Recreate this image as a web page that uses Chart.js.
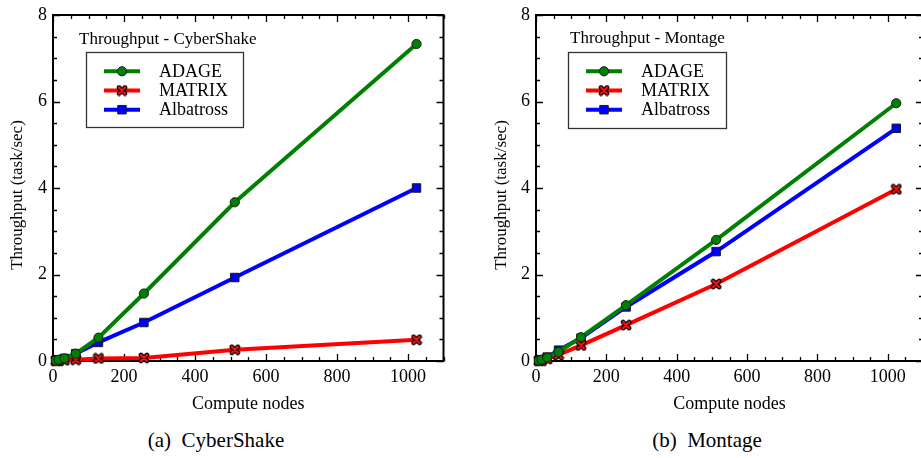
<!DOCTYPE html>
<html><head><meta charset="utf-8">
<script src="https://cdn.jsdelivr.net/npm/chart.js@4"></script>
<style>
html,body{margin:0;padding:0;background:#fff;overflow:hidden;width:921px;height:458px;position:relative;}
.panel{position:absolute;top:0;height:420px;}
#p1{left:0;width:460px;}
#p2{left:460px;width:470px;}
.cap{position:absolute;top:428px;font:21px "Liberation Serif",serif;color:#000;white-space:pre;transform:translateX(-50%);}
</style></head>
<body>
<div class="panel" id="p1"><canvas id="c1" width="460" height="420"></canvas></div>
<div class="panel" id="p2"><canvas id="c2" width="470" height="420"></canvas></div>
<div class="cap" style="left:216px">(a)  CyberShake</div>
<div class="cap" style="left:707px">(b)  Montage</div>
<script>
// ---- data ----
const nodes = [8, 16, 32, 64, 128, 256, 512, 1024];
const seriesNames = ['ADAGE', 'MATRIX', 'Albatross'];
const cyberAdage = [0.01, 0.03, 0.06, 0.17, 0.54, 1.56, 3.67, 7.33];
const cyberMatrix = [0.005, 0.01, 0.02, 0.03, 0.06, 0.07, 0.26, 0.49];
const cyberAlbatross = [0.01, 0.03, 0.06, 0.17, 0.43, 0.89, 1.93, 4.00];
const montAdage = [0.01, 0.03, 0.08, 0.21, 0.55, 1.29, 2.80, 5.96];
const montMatrix = [0.005, 0.01, 0.05, 0.14, 0.36, 0.83, 1.78, 3.97];
const montAlbatross = [0.01, 0.03, 0.09, 0.25, 0.53, 1.25, 2.53, 5.38];
const xTitle = 'Compute nodes';
const yTitle = 'Throughput (task/sec)';

const FONT = '"Liberation Serif", "Times New Roman", serif';

// cross marker image
function makeCross(){
  const c = document.createElement('canvas');
  c.width = 12; c.height = 12;
  const g = c.getContext('2d');
  g.lineCap = 'round';
  g.beginPath(); g.moveTo(3,3); g.lineTo(9,9); g.moveTo(9,3); g.lineTo(3,9);
  g.strokeStyle = '#000'; g.lineWidth = 4.6; g.stroke();
  g.strokeStyle = '#ff1010'; g.lineWidth = 2.4; g.stroke();
  return c;
}
const crossImg = makeCross();

const styles = {
  ADAGE: {color:'#008000', pointStyle:'circle', pointRadius:4.6, pointBackgroundColor:'#008000'},
  MATRIX: {color:'#ff0000', pointStyle:crossImg, pointRadius:6, pointBackgroundColor:'#ff0000'},
  Albatross: {color:'#0000ff', pointStyle:'rect', pointRadius:6, pointBackgroundColor:'#0000ff'}
};

function ds(name, values){
  const s = styles[name];
  return {
    label: name,
    data: nodes.map((n,i)=>({x:n, y:values[i]})),
    borderColor: s.color,
    backgroundColor: s.color,
    borderWidth: 4,
    pointStyle: s.pointStyle,
    pointRadius: s.pointRadius,
    pointBackgroundColor: s.pointBackgroundColor,
    pointBorderColor: '#1a1a1a',
    pointBorderWidth: 1,
    tension: 0,
    clip: false
  };
}

const framePlugin = {
  id: 'frameTicks',
  beforeDatasetsDraw(chart){
    const {ctx, chartArea:a, scales:{x,y}} = chart;
    ctx.save();
    ctx.strokeStyle = '#000';
    ctx.lineWidth = 1.3;
    ctx.beginPath();
    for (let v = x.min; v <= x.max + 1e-9; v += 50) {
      const px = Math.round(x.getPixelForValue(v)) + 0.5;
      const L = (v % 200 === 0) ? 7 : 4;
      ctx.moveTo(px, a.bottom); ctx.lineTo(px, a.bottom - L);
      ctx.moveTo(px, a.top); ctx.lineTo(px, a.top + L);
    }
    for (let v = y.min; v <= y.max + 1e-9; v += 0.5) {
      const py = Math.round(y.getPixelForValue(v)) + 0.5;
      const L = (Math.abs(v % 2) < 1e-9) ? 7 : 4;
      ctx.moveTo(a.left, py); ctx.lineTo(a.left + L, py);
      ctx.moveTo(a.right, py); ctx.lineTo(a.right - L, py);
    }
    ctx.stroke();
    ctx.lineWidth = 2;
    ctx.strokeRect(a.left, a.top, a.right - a.left, a.bottom - a.top);
    // rotated y-axis title
    const o = chart.options.plugins.boxLegend;
    ctx.fillStyle = '#000';
    ctx.font = '17px ' + FONT;
    ctx.textAlign = 'center';
    ctx.textBaseline = 'middle';
    ctx.translate(o.yTitleX, o.yTitleY);
    ctx.rotate(-Math.PI / 2);
    ctx.fillText(yTitle, 0, 0);
    ctx.restore();
  },
  afterDatasetsDraw(chart){
    const o = chart.options.plugins.boxLegend;
    const {ctx} = chart;
    ctx.save();
    ctx.fillStyle = '#000';
    ctx.font = '17px ' + FONT;
    ctx.textBaseline = 'middle';
    ctx.textAlign = 'left';
    ctx.fillText(o.title, o.titleX, o.titleY);
    ctx.font = '18px ' + FONT;
    ctx.fillStyle = '#fff';
    ctx.fillRect(o.x, o.y, o.w, o.h);
    ctx.strokeStyle = '#333';
    ctx.lineWidth = 1.3;
    ctx.strokeRect(o.x + 0.5, o.y + 0.5, o.w, o.h);
    chart.data.datasets.forEach((d, i) => {
      const cy = o.y + 19.3 + i * 19.2;
      ctx.strokeStyle = d.borderColor;
      ctx.lineWidth = 4;
      ctx.beginPath(); ctx.moveTo(o.x + 18, cy); ctx.lineTo(o.x + 54, cy); ctx.stroke();
      ctx.fillStyle = d.pointBackgroundColor;
      ctx.strokeStyle = d.pointBorderColor;
      ctx.lineWidth = 1;
      Chart.helpers.drawPoint(ctx, {pointStyle: d.pointStyle, radius: d.pointRadius, borderWidth: 1, rotation: 0}, o.x + 36, cy);
      ctx.fillStyle = '#000';
      ctx.fillText(d.label, o.x + 73, cy + 1);
    });
    ctx.restore();
  }
};

function makeChart(id, a, b, c, legend, padLeft, yWidth, padRight){
  return new Chart(document.getElementById(id), {
    type: 'line',
    data: { datasets: [ds('ADAGE', a), ds('MATRIX', b), ds('Albatross', c)] },
    options: {
      responsive: false,
      animation: false,
      events: [],
      layout: { padding: {left: padLeft, top: 10, right: padRight, bottom: 0} },
      plugins: { legend: {display:false}, tooltip: {enabled:false}, boxLegend: legend },
      scales: {
        x: {
          type: 'linear', min: 0, max: 1100,
          grid: {display:false, drawTicks:false}, border: {display:false},
          ticks: {stepSize: 200, includeBounds: false, padding: 5, color:'#000',
                  callback: v => String(v),
                  font:{family: FONT, size: 18, lineHeight: 1.2}},
          title: {display: true, text: xTitle, color:'#000', font:{family: FONT, size: 18, lineHeight: 1.2}, padding:{top:0, bottom:5}},
          afterFit(s){ s.height = 59; }
        },
        y: {
          type: 'linear', min: 0, max: 8,
          grid: {display:false, drawTicks:false}, border: {display:false},
          ticks: {stepSize: 2, padding: 6, color:'#000', callback: v => String(v),
                  font:{family: FONT, size: 18, lineHeight: 1}},
          title: {display: false},
          afterFit(s){ s.width = yWidth; }
        }
      }
    },
    plugins: [framePlugin]
  });
}

makeChart('c1', cyberAdage, cyberMatrix, cyberAlbatross,
  {title:'Throughput - CyberShake', titleX:79, titleY:40, x:86, y:52, w:157, h:75, yTitleX:18, yTitleY:195}, 0, 53, 16.5);
makeChart('c2', montAdage, montMatrix, montAlbatross,
  {title:'Throughput - Montage', titleX:110, titleY:39, x:108, y:52, w:158, h:76, yTitleX:42, yTitleY:195}, 24, 52, 6);
</script>
</body></html>
